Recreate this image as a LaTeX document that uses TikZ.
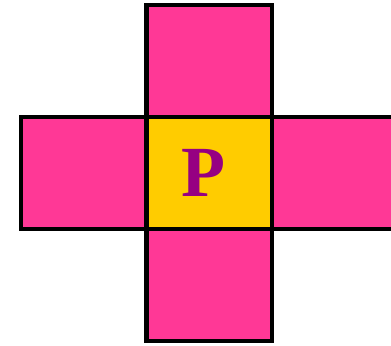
\documentclass[tikz,border=0pt]{standalone}
\usepackage{fontspec}
\setmainfont{Liberation Serif}
\usepackage{tikz}
\usetikzlibrary{positioning}
\definecolor{mypink}{RGB}{255,56,150}
\definecolor{myyellow}{RGB}{255,204,0}
\definecolor{myplum}{RGB}{150,0,130}
\tikzset{
  cell/.style={rectangle, draw=black, fill=mypink, line width=2.4pt,
    minimum width=62.75pt, minimum height=56pt, inner sep=0pt, outer sep=0pt},
  midcell/.style={cell, fill=myyellow},
  letter/.style={text=myplum, font=\fontsize{36}{36}\selectfont\bfseries}
}

\begin{document}
\begin{tikzpicture}[x=0.5pt, y=-0.5pt, node distance=0pt]
  \useasboundingbox (0,0) rectangle (391,345);
  \node[midcell] (mid) at (209.25,173) {};
  \node[cell, above=of mid] (up)   {};
  \node[cell, below=of mid] (down) {};
  \node[cell, left=of mid]  (lft)  {};
  \node[cell, right=of mid] (rgt)  {};
  \node[letter] (lbl) at ([xshift=-3pt]mid.center) {P};
\end{tikzpicture}
\end{document}
